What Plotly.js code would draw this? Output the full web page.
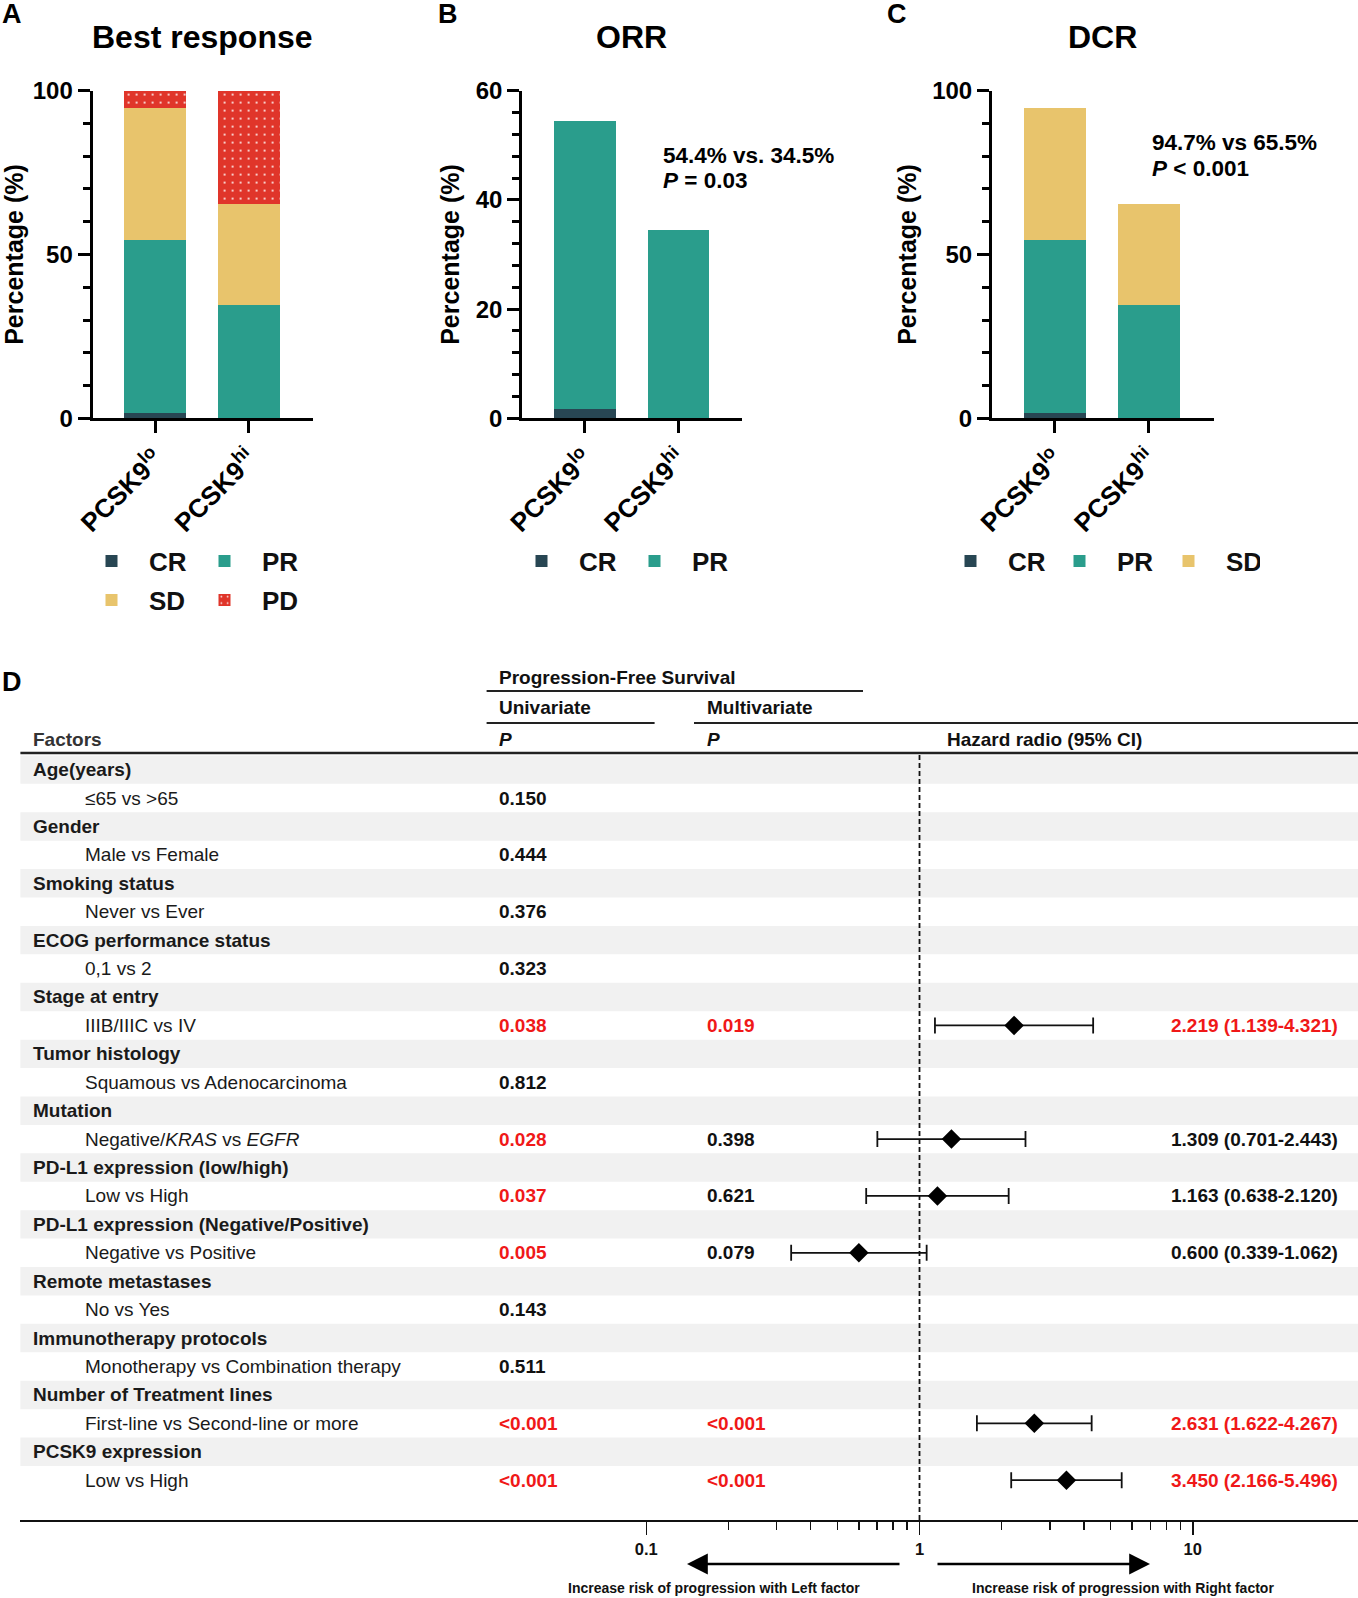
<!DOCTYPE html>
<html><head><meta charset="utf-8">
<script src="https://cdn.plot.ly/plotly-3.0.1.min.js"></script>
<style>html,body{margin:0;padding:0;background:#fff}</style>
</head><body><div id="chart" style="width:1358px;height:1598px"></div>
<script>
// ---------- data: panels A-C ----------
const groups = ['PCSK9<sup>lo</sup>', 'PCSK9<sup>hi</sup>'];
const crPct = [1.8, 0];
const prPct = [52.6, 34.5];
const sdPct = [40.3, 31.0];
const pdPct = [5.3, 34.5];
const orrNote = ['54.4% vs. 34.5%', '<i>P</i> = 0.03'];
const dcrNote = ['94.7% vs 65.5%', '<i>P</i> < 0.001'];

// ---------- data: panel D ----------
const factors = ['Age(years)', 'Gender', 'Smoking status', 'ECOG performance status', 'Stage at entry',
  'Tumor histology', 'Mutation', 'PD-L1 expression (low/high)', 'PD-L1 expression (Negative/Positive)',
  'Remote metastases', 'Immunotherapy protocols', 'Number of Treatment lines', 'PCSK9 expression'];
const comparisons = ['≤65 vs >65', 'Male vs Female', 'Never vs Ever', '0,1 vs 2', 'IIIB/IIIC vs IV',
  'Squamous vs Adenocarcinoma', 'Negative/<i>KRAS</i> vs <i>EGFR</i>', 'Low vs High', 'Negative vs Positive',
  'No vs Yes', 'Monotherapy vs Combination therapy', 'First-line vs Second-line or more', 'Low vs High'];
const uniP = ['0.150', '0.444', '0.376', '0.323', '0.038', '0.812', '0.028', '0.037', '0.005', '0.143', '0.511', '<0.001', '<0.001'];
const multiP = ['', '', '', '', '0.019', '', '0.398', '0.621', '0.079', '', '', '<0.001', '<0.001'];
const hrEst = [null, null, null, null, 2.219, null, 1.309, 1.163, 0.600, null, null, 2.631, 3.450];
const hrLow = [null, null, null, null, 1.139, null, 0.701, 0.638, 0.339, null, null, 1.622, 2.166];
const hrHigh = [null, null, null, null, 4.321, null, 2.443, 2.120, 1.062, null, null, 4.267, 5.496];
const hrTicks = [0.1, 1, 10];
const hrMinorTicks = [0.2, 0.3, 0.4, 0.5, 0.6, 0.7, 0.8, 0.9, 2, 3, 4, 5, 6, 7, 8, 9];

// ---------- helpers ----------
const W = 1358, H = 1598;
const px = v => v / W;
const py = v => 1 - v / H;
const FONT = 'Liberation Sans, Arial, Helvetica, sans-serif';
const C_CR = '#284653', C_PR = '#2a9d8c', C_SD = '#e8c46c', C_PD = '#e0352a';
const RED = '#f01818', INK = '#111111';
const isSig = p => p !== '' && (p.startsWith('<') || parseFloat(p) < 0.05);

const traces = [];
function bar(name, y, color, xa, ya, legend, extra) {
  const m = Object.assign({color: color, line: {width: 0}}, extra || {});
  traces.push({type: 'bar', name: name, x: groups, y: y, xaxis: xa, yaxis: ya, width: 0.66,
    marker: m, legend: legend, hoverinfo: 'skip'});
}
const pdPattern = {pattern: {shape: '.', fgcolor: '#ffffff', bgcolor: C_PD, size: 8, solidity: 0.05}};
// Panel A
bar('CR', crPct, C_CR, 'x', 'y', 'legend');
bar('PR', prPct, C_PR, 'x', 'y', 'legend');
bar('SD', sdPct, C_SD, 'x', 'y', 'legend4');
bar('PD', pdPct, C_PD, 'x', 'y', 'legend4', pdPattern);
// Panel B
bar('CR', crPct, C_CR, 'x2', 'y2', 'legend2');
bar('PR', prPct, C_PR, 'x2', 'y2', 'legend2');
// Panel C
bar('CR', crPct, C_CR, 'x3', 'y3', 'legend3');
bar('PR', prPct, C_PR, 'x3', 'y3', 'legend3');
bar('SD', sdPct, C_SD, 'x3', 'y3', 'legend3');

// Forest plot
const fx = [], fy = [], fplus = [], fminus = [];
hrEst.forEach((v, i) => {
  if (v !== null) { fx.push(v); fy.push(2 * i + 1); fplus.push(hrHigh[i] - v); fminus.push(v - hrLow[i]); }
});
traces.push({type: 'scatter', mode: 'markers', x: fx, y: fy, xaxis: 'x4', yaxis: 'y4', showlegend: false,
  hoverinfo: 'skip',
  marker: {symbol: 'diamond', size: 15, color: '#000'},
  error_x: {type: 'data', symmetric: false, array: fplus, arrayminus: fminus, color: '#111', thickness: 1.8, width: 8}});

// ---------- axes ----------
const tickFont = {family: FONT, size: 24, color: '#000', weight: 'bold'};
function xCat(d0, d1, r) {
  return {domain: [px(d0), px(d1)], range: r, type: 'category', showline: true, linewidth: 3, linecolor: '#000',
    ticks: 'outside', ticklen: 12, tickwidth: 3, tickcolor: '#000', tickangle: -45,
    tickfont: {family: FONT, size: 26, color: '#000', weight: 'bold'}, showgrid: false, zeroline: false, fixedrange: true};
}
function yPct(anchor, max, dt, mdt) {
  return {anchor: anchor, domain: [py(418.4), py(90.6)], range: [0, max], dtick: dt, tick0: 0,
    showline: true, linewidth: 3, linecolor: '#000', ticks: 'outside', ticklen: 12, tickwidth: 3, tickcolor: '#000',
    minor: {dtick: mdt, tick0: 0, ticks: 'outside', ticklen: 7, tickwidth: 3, tickcolor: '#000', showgrid: false},
    tickfont: tickFont, showgrid: false, zeroline: false, fixedrange: true,
    title: {text: 'Percentage (%)', font: {family: FONT, size: 25, color: '#000', weight: 'bold'}, standoff: 9}};
}

// ---------- legends ----------
function leg(x, y, ew) {
  return {orientation: 'h', x: px(x), y: py(y), xanchor: 'left', yanchor: 'middle', itemwidth: 65,
    entrywidth: ew, entrywidthmode: 'pixels', traceorder: 'normal', bgcolor: 'rgba(0,0,0,0)',
    font: {family: FONT, size: 26, color: '#111', weight: 'bold'}, itemclick: false, itemdoubleclick: false};
}

// ---------- annotations & shapes ----------
const ann = [];
function txt(text, x, y, o) {
  ann.push(Object.assign({text: text, x: px(x), y: py(y), xref: 'paper', yref: 'paper', showarrow: false,
    xanchor: 'left', yanchor: 'middle', font: {family: FONT, size: 19, color: INK, weight: 'bold'}}, o || {}));
}
const big = s => ({family: FONT, size: s, color: '#000', weight: 'bold'});
txt('A', 0, 14, {font: big(27)});
txt('B', 436, 14, {font: big(27)});
txt('C', 885, 14, {font: big(27)});
txt('D', 0, 682, {font: big(27)});
txt('Best response', 202.6, 37, {xanchor: 'center', font: big(32)});
txt('ORR', 631, 37, {xanchor: 'center', font: big(32)});
txt('DCR', 1102, 37, {xanchor: 'center', font: big(32)});
txt(orrNote[0], 661, 155, {font: big(22.5)});
txt(orrNote[1], 661, 180, {font: big(22.5)});
txt(dcrNote[0], 1150, 142.5, {font: big(22.5)});
txt(dcrNote[1], 1150, 168, {font: big(22.5)});

// table header
txt('Progression-Free Survival', 497, 677);
txt('Univariate', 497, 707.5);
txt('Multivariate', 704.5, 707.5);
txt('Factors', 30.5, 739, {font: {family: FONT, size: 19, color: '#333', weight: 'bold'}});
txt('<i>P</i>', 497, 739);
txt('<i>P</i>', 704.5, 739);
txt('Hazard radio (95% CI)', 1044, 739, {xanchor: 'center'});

const shapes = [];
function hline(x0, x1, y, w) {
  shapes.push({type: 'line', xref: 'paper', yref: 'paper', x0: px(x0), x1: px(x1), y0: py(y), y1: py(y),
    line: {color: '#222', width: w}});
}
hline(486.6, 863, 691, 2.2);
hline(486.6, 654.6, 723, 2.2);
hline(694, 1358, 723, 2.2);
hline(20.4, 1358, 753, 2.6);

// table rows
const rowFont = (c, wgt) => ({family: FONT, size: 19, color: c, weight: wgt});
factors.forEach((f, i) => {
  const rh = 2 * i, rs = 2 * i + 1;
  shapes.push({type: 'rect', xref: 'paper', yref: 'y4', x0: px(20.4), x1: 1, y0: rh - 0.5, y1: rh + 0.5,
    fillcolor: '#f1f1f1', line: {width: 0}, layer: 'below'});
  ann.push({text: f, x: px(30.5), y: rh, xref: 'paper', yref: 'y4', showarrow: false, xanchor: 'left', yanchor: 'middle',
    font: rowFont('#1a1a1a', 'bold')});
  ann.push({text: comparisons[i], x: px(82.5), y: rs, xref: 'paper', yref: 'y4', showarrow: false, xanchor: 'left', yanchor: 'middle',
    font: rowFont('#1a1a1a', 'normal')});
  ann.push({text: uniP[i], x: px(497), y: rs, xref: 'paper', yref: 'y4', showarrow: false, xanchor: 'left', yanchor: 'middle',
    font: rowFont(isSig(uniP[i]) ? RED : INK, 'bold')});
  if (multiP[i] !== '') {
    ann.push({text: multiP[i], x: px(704.5), y: rs, xref: 'paper', yref: 'y4', showarrow: false, xanchor: 'left', yanchor: 'middle',
      font: rowFont(isSig(multiP[i]) ? RED : INK, 'bold')});
  }
  if (hrEst[i] !== null) {
    const t = hrEst[i].toFixed(3) + ' (' + hrLow[i].toFixed(3) + '-' + hrHigh[i].toFixed(3) + ')';
    ann.push({text: t, x: px(1340), y: rs, xref: 'paper', yref: 'y4', showarrow: false, xanchor: 'right', yanchor: 'middle',
      font: rowFont(isSig(multiP[i]) ? RED : INK, 'bold')});
  }
});

// reference line at HR = 1
shapes.push({type: 'line', xref: 'x4', yref: 'paper', x0: 1, x1: 1, y0: py(1520), y1: py(753),
  line: {color: '#111', width: 1.8, dash: '5px,3px'}});

// arrows and captions
ann.push({text: '', x: px(687), y: py(1564), xref: 'paper', yref: 'paper', showarrow: true, ax: 214, ay: 0,
  arrowhead: 2, arrowsize: 1.6, arrowwidth: 2.6, arrowcolor: '#000'});
ann.push({text: '', x: px(1150), y: py(1564), xref: 'paper', yref: 'paper', showarrow: true, ax: -214, ay: 0,
  arrowhead: 2, arrowsize: 1.6, arrowwidth: 2.6, arrowcolor: '#000'});
txt('Increase risk of progression with Left factor', 714, 1588, {xanchor: 'center', font: {family: FONT, size: 14, color: '#111', weight: 'bold'}});
txt('Increase risk of progression with Right factor', 1123, 1588, {xanchor: 'center', font: {family: FONT, size: 14, color: '#111', weight: 'bold'}});

const layout = {
  width: W, height: H, margin: {l: 0, r: 0, t: 0, b: 0}, paper_bgcolor: '#fff', plot_bgcolor: 'rgba(0,0,0,0)',
  barmode: 'stack', bargap: 0, font: {family: FONT},
  xaxis: xCat(92.6, 312.5, [-0.669, 1.678]),
  yaxis: yPct('x', 100, 50, 10),
  xaxis2: Object.assign(xCat(522.2, 742, [-0.669, 1.678]), {anchor: 'y2'}),
  yaxis2: yPct('x2', 60, 20, 4),
  xaxis3: Object.assign(xCat(992, 1213.5, [-0.672, 1.692]), {anchor: 'y3'}),
  yaxis3: yPct('x3', 100, 50, 10),
  xaxis4: {anchor: 'y4', domain: [px(20.4), 1], type: 'log', range: [-3.291, 1.605],
    tickmode: 'array', tickvals: hrTicks, ticktext: hrTicks.map(String),
    showline: true, linewidth: 2.2, linecolor: '#111', ticks: 'outside', ticklen: 13, tickwidth: 1.6, tickcolor: '#111',
    minor: {tickmode: 'array', tickvals: hrMinorTicks, ticks: 'outside', ticklen: 8, tickwidth: 1.4, tickcolor: '#111', showgrid: false},
    tickfont: {family: FONT, size: 16.5, color: '#111', weight: 'bold'}, showgrid: false, zeroline: false, fixedrange: true},
  yaxis4: {anchor: 'x4', domain: [py(1520), py(753)], range: [26.40, -0.584], visible: false, fixedrange: true},
  legend: leg(74, 561, 33),
  legend4: leg(74, 600, 33),
  legend2: leg(504, 561, 33),
  legend3: leg(933, 561, 29),
  annotations: ann,
  shapes: shapes
};
Plotly.newPlot('chart', traces, layout, {staticPlot: true, responsive: false});
</script></body></html>
